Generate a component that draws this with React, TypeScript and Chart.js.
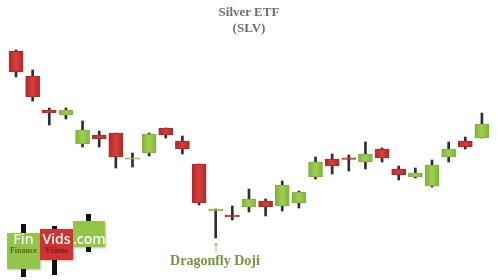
import React, { useEffect, useRef } from 'react';
import { Chart, registerables } from 'chart.js';

Chart.register(...registerables);

const title = ['Silver ETF', '(SLV)'];
const annotation = 'Dragonfly Doji';

const sessions = [
  1, 2, 3, 4, 5, 6, 7, 8, 9, 10, 11, 12, 13, 14, 15,
  16, 17, 18, 19, 20, 21, 22, 23, 24, 25, 26, 27, 28, 29,
];
const opens = [
  34.9, 32.4, 29.0, 28.5, 25.6, 26.5, 26.7, 24.08, 24.7, 27.2, 25.9, 23.6, 18.94, 18.5, 19.3,
  19.9, 19.4, 19.7, 22.3, 24.1, 24.22, 23.8, 25.1, 23.1, 22.3, 21.4, 24.3, 25.9, 26.2,
];
const highs = [
  35.0, 33.0, 29.2, 29.2, 27.9, 26.9, 26.7, 24.7, 26.7, 27.2, 26.4, 23.6, 19.1, 19.4, 21.1,
  20.1, 21.9, 20.9, 24.3, 24.6, 24.5, 25.8, 25.2, 23.4, 23.2, 24.0, 25.8, 26.3, 28.7,
];
const lows = [
  32.3, 29.9, 27.5, 28.1, 25.3, 25.3, 23.2, 23.3, 24.4, 26.2, 24.6, 19.5, 16.2, 18.0, 18.8,
  18.4, 18.9, 19.2, 22.1, 22.6, 22.9, 23.1, 23.8, 22.0, 22.2, 21.3, 23.8, 25.1, 26.2,
];
const closes = [
  32.8, 30.3, 28.72, 29.0, 27.0, 26.1, 24.3, 24.22, 26.6, 26.5, 25.1, 19.7, 19.08, 18.3, 20.1,
  19.3, 21.5, 20.8, 23.8, 23.4, 24.06, 24.6, 24.2, 22.5, 22.7, 23.5, 25.1, 25.3, 27.6,
];

const RED = '#cc3331';
const RED_EDGE = '#b02826';
const RED_MID = '#d6403d';
const GREEN = '#92c548';
const GREEN_EDGE = '#7fb23a';
const GREEN_MID = '#9fd052';
const WICK = '#2e2e2e';

export default function App() {
  const ref = useRef<HTMLCanvasElement>(null);

  useEffect(() => {
    const up = sessions.map((_, i) => closes[i] >= opens[i]);
    const bodyFill = (c: any) => {
      const isUp = up[c.dataIndex];
      const fallback = isUp ? GREEN : RED;
      const xs = c.chart && c.chart.scales && c.chart.scales.x;
      if (!xs || typeof c.dataIndex !== 'number') return fallback;
      const px = xs.getPixelForValue(c.dataIndex);
      if (!Number.isFinite(px)) return fallback;
      const g = c.chart.ctx.createLinearGradient(px - 7, 0, px + 7, 0);
      g.addColorStop(0, isUp ? GREEN_EDGE : RED_EDGE);
      g.addColorStop(0.5, isUp ? GREEN_MID : RED_MID);
      g.addColorStop(1, isUp ? GREEN_EDGE : RED_EDGE);
      return g;
    };
    const chart = new Chart(ref.current as HTMLCanvasElement, {
      type: 'bar',
      data: {
        datasets: [
          {
            label: 'wick',
            data: sessions.map((_, i) => ({ x: i, y: [lows[i], highs[i]] })) as any,
            backgroundColor: WICK,
            barThickness: 2,
            grouped: false,
            order: 2,
          } as any,
          {
            label: 'body',
            data: sessions.map((_, i) => ({ x: i, y: [opens[i], closes[i]] })) as any,
            backgroundColor: bodyFill,
            borderColor: up.map((u) => (u ? GREEN_EDGE : RED_EDGE)),
            borderWidth: 1,
            borderSkipped: false,
            barThickness: 14,
            grouped: false,
            order: 1,
          } as any,
        ],
      },
      options: {
        responsive: false,
        maintainAspectRatio: false,
        animation: false,
        layout: { padding: 0 },
        plugins: {
          legend: { display: false },
          tooltip: { enabled: false },
          title: { display: false },
        },
        scales: {
          x: { type: 'linear', display: false, offset: false, min: -0.9615, max: 28.966, grid: { offset: false } },
          y: { display: false, min: 12, max: 40 },
        },
      },
    });
    return () => chart.destroy();
  }, []);

  const serif = '"Liberation Serif", "Times New Roman", serif';
  const sans = '"Open Sans", "DejaVu Sans", sans-serif';

  const box = (left: number, top: number, w: number, h: number, bg: string): React.CSSProperties => ({
    position: 'absolute', left, top, width: w, height: h, background: bg,
    boxShadow: '1px 1px 2px rgba(0,0,0,0.25)',
  });
  const wick = (left: number, top: number, h: number): React.CSSProperties => ({
    position: 'absolute', left, top, width: 5, height: h, background: '#111',
  });
  const logoText = (left: number, width: number, text: string): React.ReactNode => (
    <div style={{ position: 'absolute', left, top: 231, width, height: 16, lineHeight: '16px', textAlign: 'center', fontFamily: sans, fontWeight: 600, fontSize: 14, color: '#fff', whiteSpace: 'nowrap' }}>{text}</div>
  );

  return (
    <div style={{ position: 'fixed', left: 0, top: 0, width: 498, height: 280, background: '#fff', overflow: 'hidden' }}>
      <canvas ref={ref} width={498} height={280} style={{ display: 'block', position: 'absolute', left: 0, top: 0 }} />
      <div style={{ position: 'absolute', left: 0, top: 4, width: 498, textAlign: 'center', fontFamily: serif, fontWeight: 'bold', fontSize: 13, lineHeight: '16px', color: '#6e6e6e' }}>
        <div>{title[0]}</div>
        <div>{title[1]}</div>
      </div>
      <div style={{ position: 'absolute', left: 206, top: 240, width: 20, textAlign: 'center', fontFamily: serif, fontWeight: 'bold', fontSize: 14, lineHeight: '14px', color: '#77933c' }}>↑</div>
      <div style={{ position: 'absolute', left: 155, top: 253, width: 120, textAlign: 'center', fontFamily: serif, fontWeight: 'bold', fontSize: 14, lineHeight: '16px', color: '#77933c' }}>{annotation}</div>

      <div style={wick(21, 224, 53)} />
      <div style={wick(52, 226, 49)} />
      <div style={wick(86, 214, 38)} />
      <div style={box(7, 233, 33, 36, GREEN)} />
      <div style={box(40, 229, 33, 31, RED)} />
      <div style={box(73, 221, 32, 26, GREEN)} />
      {logoText(7, 33, 'Fin')}
      {logoText(40, 33, 'Vids')}
      {logoText(73, 32, '.com')}
      <div style={{ position: 'absolute', left: 7, top: 246, width: 33, lineHeight: '9px', textAlign: 'center', fontFamily: serif, fontWeight: 'bold', fontSize: 8, color: '#4f6e1a' }}>Finance</div>
      <div style={{ position: 'absolute', left: 40, top: 246, width: 33, lineHeight: '9px', textAlign: 'center', fontFamily: serif, fontWeight: 'bold', fontSize: 8, color: '#7a1818' }}>Videos</div>
    </div>
  );
}
